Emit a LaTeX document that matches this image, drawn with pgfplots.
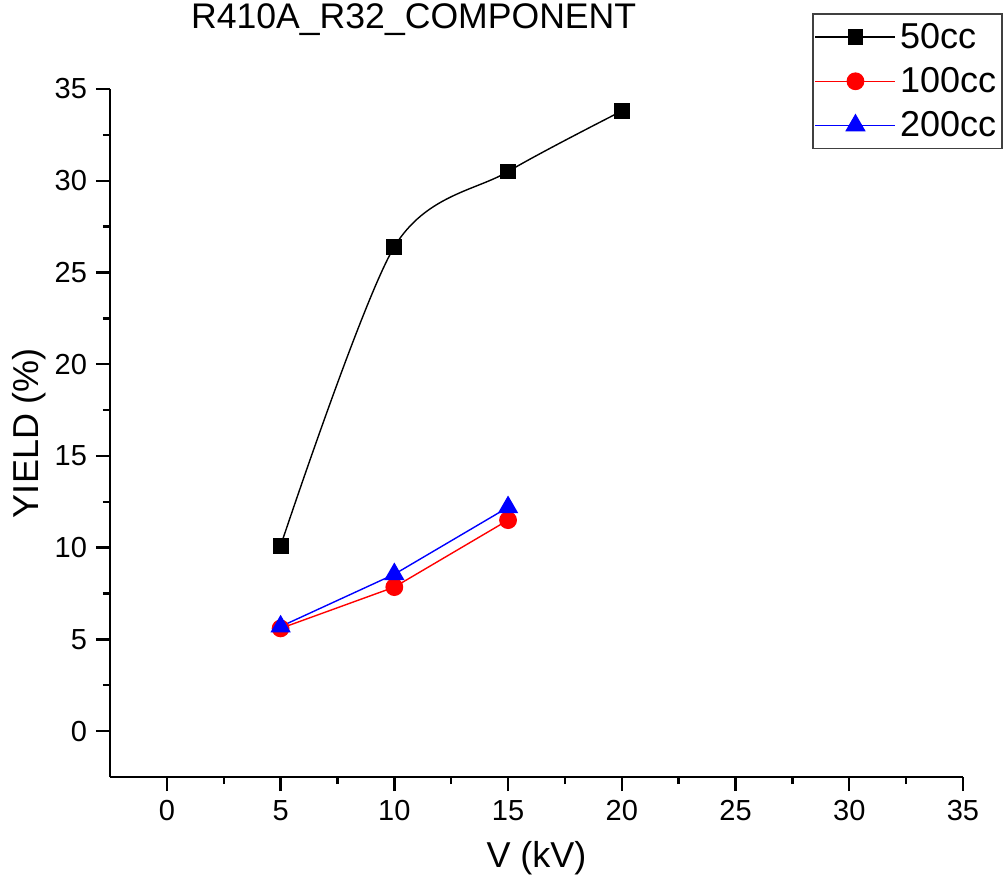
\documentclass[border=0pt]{standalone}
\usepackage{fontspec}
\setmainfont{Liberation Sans}
\usepackage{pgfplots}
\pgfplotsset{compat=1.18}

\begin{document}
\begin{tikzpicture}
\path[use as bounding box] (-55pt,-53.5pt) rectangle (448.5pt,388.5pt);
\begin{axis}[
    scale only axis,
    width=426.5pt, height=344pt,
    xmin=-2.5, xmax=35, ymin=-2.5, ymax=35,
    xtick={0,5,...,35}, ytick={0,5,...,35},
    minor tick num=1,
    axis x line*=bottom, axis y line*=left,
    axis line style={line width=1.2pt,-},
    tick style={line width=1.2pt,black},
    tick align=outside,
    major tick length=7pt, minor tick length=3.5pt,
    /pgf/number format/assume math mode=true,
    ticklabel style={font=\fontsize{14.5}{16}\selectfont},
    xticklabel style={yshift=-1pt},
    yticklabel style={xshift=-1pt},
    label style={font=\fontsize{18}{20}\selectfont},
    xlabel={V (kV)}, ylabel={YIELD (\%)},
    xlabel style={at={(axis description cs:0.5,0)}, anchor=center, yshift=-40.5pt},
    ylabel style={at={(axis description cs:0,0.5)}, anchor=center, yshift=40.5pt},
    title={R410A\_R32\_COMPONENT},
    title style={font=\fontsize{17.8}{20}\selectfont, at={(axis description cs:0.356,1.083)}, anchor=center},
    legend style={at={(axis description cs:0.823,1.110)}, anchor=north west,
        font=\fontsize{18}{20}\selectfont, draw=black!75, line width=0.75pt,
        inner xsep=1pt, inner ysep=2.5pt, row sep=4pt,
        cells={anchor=west}},
    legend image code/.code={
        \draw[#1,mark=none] (0pt,0pt) -- (40pt,0pt);
        \draw[#1,only marks] plot coordinates {(20pt,0pt)};
    },
]
\addplot[black, line width=0.7pt, smooth, mark=square*, mark size=3.6pt, mark options={solid}]
    coordinates {(5,10.1) (10,26.4) (15,30.5) (20,33.8)};
\addlegendentry{50cc}
\addplot[red, line width=0.7pt, mark=*, mark size=4.1pt]
    coordinates {(5,5.6) (10,7.85) (15,11.5)};
\addlegendentry{100cc}
\addplot[blue, line width=0.7pt, mark=triangle*, mark size=5.2pt]
    coordinates {(5,5.7) (10,8.55) (15,12.2)};
\addlegendentry{200cc}
\end{axis}
\end{tikzpicture}
\end{document}
